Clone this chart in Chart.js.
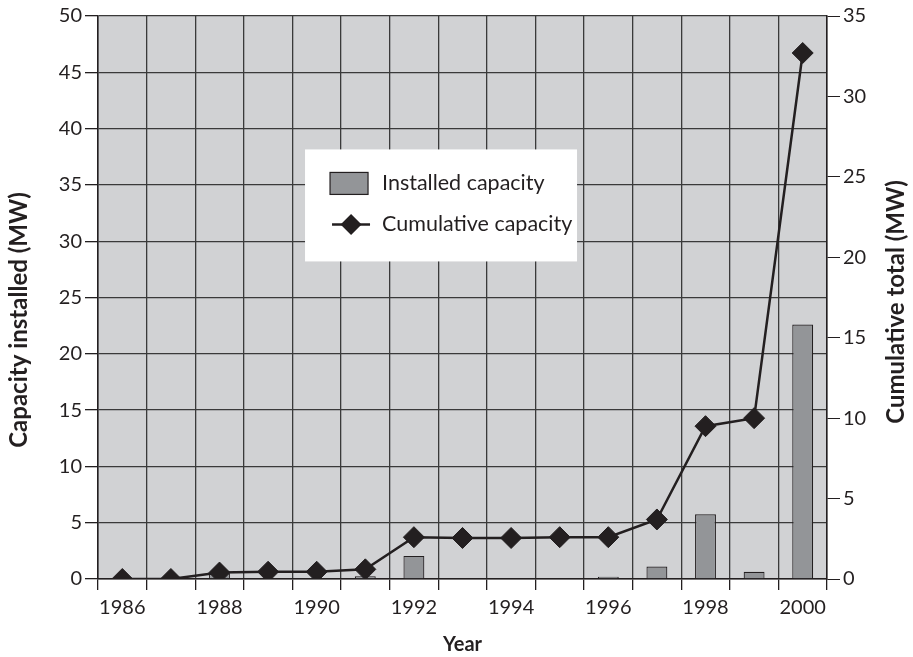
<!DOCTYPE html>
<html>
<head>
<meta charset="utf-8">
<script src="https://cdn.jsdelivr.net/npm/chart.js@4/dist/chart.umd.min.js"></script>
<style>
  html, body { margin: 0; padding: 0; background: #fff; }
  #wrap { width: 913px; height: 657px; }
</style>
</head>
<body>
<div id="wrap"><canvas id="capChart" width="913" height="657"></canvas></div>
<script>
// values
const years = ["1986", "1987", "1988", "1989", "1990", "1991", "1992", "1993",
               "1994", "1995", "1996", "1997", "1998", "1999", "2000"];
const installed = [0, 0, 0.5, 0, 0, 0.25, 2.05, 0, 0, 0, 0.2, 1.1, 5.75, 0.65, 22.6];
const cumulative = [0, 0, 0.4, 0.45, 0.45, 0.6, 2.6, 2.55, 2.55, 2.6, 2.6, 3.7, 9.5, 10.0, 32.7];
const leftTicks = { min: 0, max: 50, step: 5 };
const rightTicks = { min: 0, max: 35, step: 5 };

const FONT = "Lato, 'Open Sans', sans-serif";
const INK = "#231f20";

// grey plot background
const plotBg = {
  id: "plotBg",
  beforeDraw(chart) {
    const { ctx, chartArea: a } = chart;
    ctx.save();
    ctx.fillStyle = "#d1d2d4";
    ctx.fillRect(a.left, a.top, a.right - a.left, a.bottom - a.top);
    ctx.restore();
  }
};

// both y titles read bottom-to-top, so they are drawn here
const sideTitles = {
  id: "sideTitles",
  afterDraw(chart) {
    const { ctx } = chart;
    const draw = (text, x, y) => {
      ctx.save();
      ctx.translate(x, y);
      ctx.rotate(-Math.PI / 2);
      ctx.fillStyle = INK;
      ctx.font = "bold 24px " + FONT;
      ctx.textAlign = "center";
      ctx.textBaseline = "middle";
      ctx.fillText(text, 0, 0);
      ctx.restore();
    };
    draw("Capacity installed (MW)", 19, 320);
    draw("Cumulative total (MW)", 896, 302);
  }
};

// white legend box sitting inside the plot
const boxLegend = {
  id: "boxLegend",
  afterDraw(chart) {
    const { ctx, chartArea: a } = chart;
    const w = a.right - a.left, h = a.bottom - a.top;
    const x = a.left + w * 0.284, y = a.top + h * 0.237;
    ctx.save();
    ctx.fillStyle = "#fff";
    ctx.fillRect(x, y, 272, 112);

    // bar swatch
    ctx.fillStyle = "#939598";
    ctx.strokeStyle = INK;
    ctx.lineWidth = 1.2;
    ctx.fillRect(x + 25, y + 23, 38, 22);
    ctx.strokeRect(x + 25, y + 23, 38, 22);

    // line + diamond swatch
    ctx.lineWidth = 2.5;
    ctx.beginPath();
    ctx.moveTo(x + 27, y + 75);
    ctx.lineTo(x + 65, y + 75);
    ctx.stroke();
    ctx.fillStyle = INK;
    ctx.beginPath();
    const cx = x + 46, cy = y + 75, r = 10.5;
    ctx.moveTo(cx, cy - r); ctx.lineTo(cx + r, cy);
    ctx.lineTo(cx, cy + r); ctx.lineTo(cx - r, cy);
    ctx.closePath();
    ctx.fill();

    ctx.fillStyle = INK;
    ctx.font = "21.5px " + FONT;
    ctx.textBaseline = "middle";
    ctx.fillText("Installed capacity", x + 77, y + 34);
    ctx.fillText("Cumulative capacity", x + 77, y + 75);
    ctx.restore();
  }
};

new Chart(document.getElementById("capChart").getContext("2d"), {
  type: "bar",
  data: {
    labels: years,
    datasets: [
      {
        type: "line",
        label: "Cumulative capacity",
        data: cumulative,
        yAxisID: "y2",
        borderColor: INK,
        borderWidth: 2.5,
        pointStyle: "rectRot",
        pointRadius: 10.5,
        pointBackgroundColor: INK,
        pointBorderColor: INK,
        pointBorderWidth: 1,
        tension: 0,
        order: 0
      },
      {
        label: "Installed capacity",
        data: installed,
        yAxisID: "y",
        backgroundColor: "#939598",
        borderColor: INK,
        borderWidth: 1.2,
        barPercentage: 0.43,
        categoryPercentage: 1,
        order: 1
      }
    ]
  },
  options: {
    responsive: false,
    animation: false,
    layout: { padding: { top: 16, left: 0, right: 0, bottom: 0 } },
    plugins: {
      legend: { display: false },
      tooltip: { enabled: false },
      title: { display: false }
    },
    scales: {
      x: {
        offset: true,
        afterFit(s) { s.height = 78; },
        grid: {
          offset: true,
          color: "#3a3a3a",
          lineWidth: 1.3,
          tickLength: 11,
          tickColor: INK
        },
        border: { color: INK, width: 1.5 },
        ticks: {
          autoSkip: false,
          maxRotation: 0,
          color: INK,
          padding: 6,
          font: { family: FONT, size: 20 },
          callback(v, i) { return i % 2 === 0 ? years[i] : ""; }
        },
        title: {
          display: true,
          text: "Year",
          color: INK,
          padding: { top: 0, bottom: 0 },
          font: { family: FONT, size: 20, weight: "bold" }
        }
      },
      y: {
        position: "left",
        min: leftTicks.min,
        max: leftTicks.max,
        afterFit(s) { s.width = 98; },
        grid: {
          color: "#3a3a3a",
          lineWidth: 1.3,
          tickLength: 13,
          tickColor: INK
        },
        border: { color: INK, width: 1.5 },
        ticks: {
          stepSize: leftTicks.step,
          color: INK,
          padding: 3,
          font: { family: FONT, size: 20 }
        }
      },
      y2: {
        position: "right",
        min: rightTicks.min,
        max: rightTicks.max,
        afterFit(s) { s.width = 86; },
        grid: {
          drawOnChartArea: false,
          tickLength: 13,
          tickColor: INK
        },
        border: { color: INK, width: 1.5 },
        ticks: {
          stepSize: rightTicks.step,
          color: INK,
          padding: 3,
          font: { family: FONT, size: 20 }
        }
      }
    }
  },
  plugins: [plotBg, sideTitles, boxLegend]
});
</script>
</body>
</html>
